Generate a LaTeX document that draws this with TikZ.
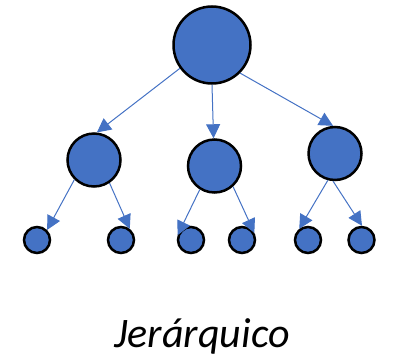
\documentclass[tikz,border=0pt]{standalone}
\usepackage{fontspec}
\setmainfont{Carlito}
\definecolor{treeblue}{HTML}{4472C4}
\usetikzlibrary{arrows.meta}

\tikzset{
  treenode/.style={circle, draw=black, line width=2.5pt, fill=treeblue, inner sep=0pt},
  rootnode/.style={treenode, minimum size=77pt},
  midnode/.style={treenode, minimum size=53pt},
  leafnode/.style={treenode, minimum size=26pt},
  link/.style={draw=treeblue, line width=1pt, -{Triangle[length=14pt,width=14pt]}}
}

\begin{document}
\begin{tikzpicture}[x=1pt, y=-1pt]
\useasboundingbox (0,0) rectangle (395,359);

% top of the tree
\node[rootnode] (root) at (212,45) {};

% middle level
\node[midnode] (midL) at (94,160) {};
\node[midnode] (midM) at (214.5,166) {};
\node[midnode] (midR) at (335,153.5) {};

% leaves
\node[leafnode] (leafA) at (37,240) {};
\node[leafnode] (leafB) at (121,240) {};
\node[leafnode] (leafC) at (191,240) {};
\node[leafnode] (leafD) at (242,240) {};
\node[leafnode] (leafE) at (308,240) {};
\node[leafnode] (leafF) at (361.5,240) {};

% arrows from the root
\draw[link] (root.216) -- (midL.84);
\draw[link] (root.270) -- (midM.92);
\draw[link] (root.315) -- (midR.94);

% arrows down to the leaves
\draw[link] (midL.225) -- (leafA.45);
\draw[link] (midL.304) -- (leafB.52);
\draw[link] (midM.238) -- (leafC.160);
\draw[link] (midM.312) -- (leafD.30);
\draw[link] (midR.255) -- (leafE.128);
\draw[link] (midR.266) -- (leafF.88);

% caption
\node[anchor=base, font=\fontsize{42}{48}\selectfont\itshape] (caption) at (202,347) {Jerárquico};
\end{tikzpicture}
\end{document}
